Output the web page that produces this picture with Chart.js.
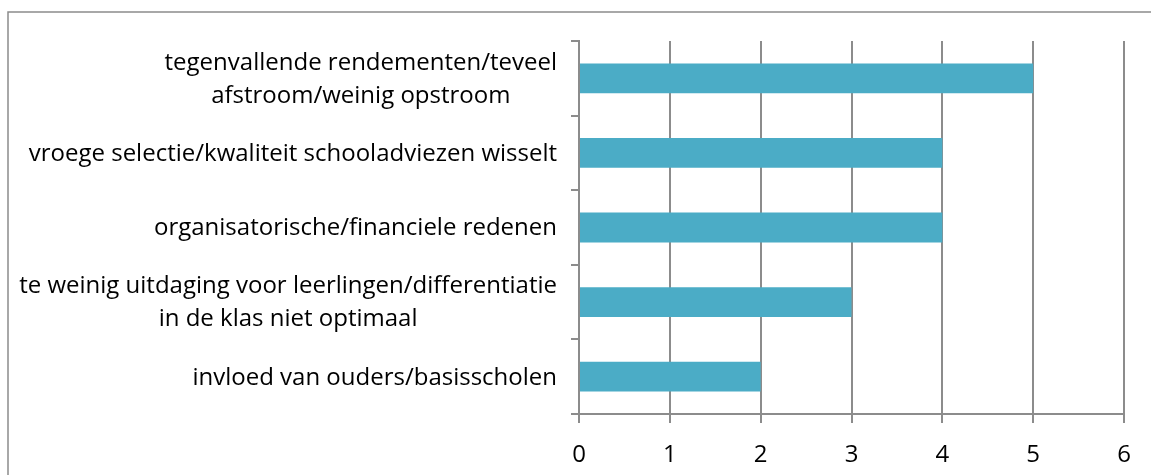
<!DOCTYPE html>
<html><head><meta charset="utf-8">
<script src="https://cdn.jsdelivr.net/npm/chart.js@4"></script>
<style>html,body{margin:0;padding:0;background:#fff;overflow:hidden}#wrap{position:relative;width:1151px;height:475px}</style>
</head><body><div id="wrap"><canvas id="c" width="1151" height="475"></canvas></div>
<script>
const categories = [
  ['tegenvallende rendementen/teveel', 'afstroom/weinig opstroom'],
  ['vroege selectie/kwaliteit schooladviezen wisselt'],
  ['organisatorische/financiele redenen'],
  ['te weinig uitdaging voor leerlingen/differentiatie', 'in de klas niet optimaal'],
  ['invloed van ouders/basisscholen']
];
const values = [5, 4, 4, 3, 2];
const xTicks = [0, 1, 2, 3, 4, 5, 6];

const FONT = '"Open Sans"';
const FS = 24;
const GRID = '#8c8c8c';

const frame = {
  id: 'frame',
  beforeDraw(chart) {
    const ctx = chart.ctx;
    ctx.save();
    ctx.fillStyle = '#fff';
    ctx.fillRect(0, 0, chart.width, chart.height);
    ctx.strokeStyle = GRID;
    ctx.lineWidth = 1.5;
    ctx.beginPath();
    ctx.moveTo(8, chart.height);
    ctx.lineTo(8, 12);
    ctx.lineTo(chart.width, 12);
    ctx.stroke();
    ctx.restore();
  }
};

const yLabels = {
  id: 'yLabels',
  afterDraw(chart) {
    const ys = chart.scales.y;
    const ctx = chart.ctx;
    ctx.save();
    ctx.font = FS + 'px ' + FONT;
    ctx.fillStyle = '#000';
    ctx.textAlign = 'center';
    ctx.textBaseline = 'middle';
    const rightEdge = ys.right - 22;
    categories.forEach((lines, i) => {
      const cy = ys.getPixelForValue(i) + 1;
      const w = Math.max(...lines.map(l => ctx.measureText(l).width));
      const cx = rightEdge - w / 2;
      lines.forEach((l, j) => ctx.fillText(l, cx, cy + (j - (lines.length - 1) / 2) * 33));
    });
    ctx.restore();
  }
};

function draw() {
  new Chart(document.getElementById('c'), {
    type: 'bar',
    data: {
      labels: categories,
      datasets: [{
        data: values,
        backgroundColor: '#4BACC6',
        borderWidth: 0,
        barPercentage: 0.4,
        categoryPercentage: 1
      }]
    },
    options: {
      indexAxis: 'y',
      responsive: false,
      animation: false,
      devicePixelRatio: 1,
      layout: { padding: { left: 0, top: 41, right: 27, bottom: 0 } },
      plugins: { legend: { display: false }, tooltip: { enabled: false } },
      scales: {
        y: {
          type: 'category',
          offset: true,
          grid: { offset: true, drawOnChartArea: false, drawTicks: true, tickLength: 8, color: GRID, lineWidth: 2 },
          border: { color: GRID, width: 2 },
          ticks: { display: false },
          afterFit(s) { s.width = 579; }
        },
        x: {
          type: 'linear',
          min: xTicks[0],
          max: xTicks[xTicks.length - 1],
          afterBuildTicks(s) { s.ticks = xTicks.map(v => ({ value: v })); },
          grid: { color: GRID, lineWidth: 2, drawTicks: true, tickLength: 9 },
          border: { color: GRID, width: 2 },
          ticks: { color: '#000', font: { family: FONT, size: FS }, padding: 18 },
          afterFit(s) { s.height = 61; }
        }
      }
    },
    plugins: [frame, yLabels]
  });
}
(document.fonts && document.fonts.load ? document.fonts.load(FS + 'px ' + FONT).then(draw, draw) : draw());
</script>
</body></html>
